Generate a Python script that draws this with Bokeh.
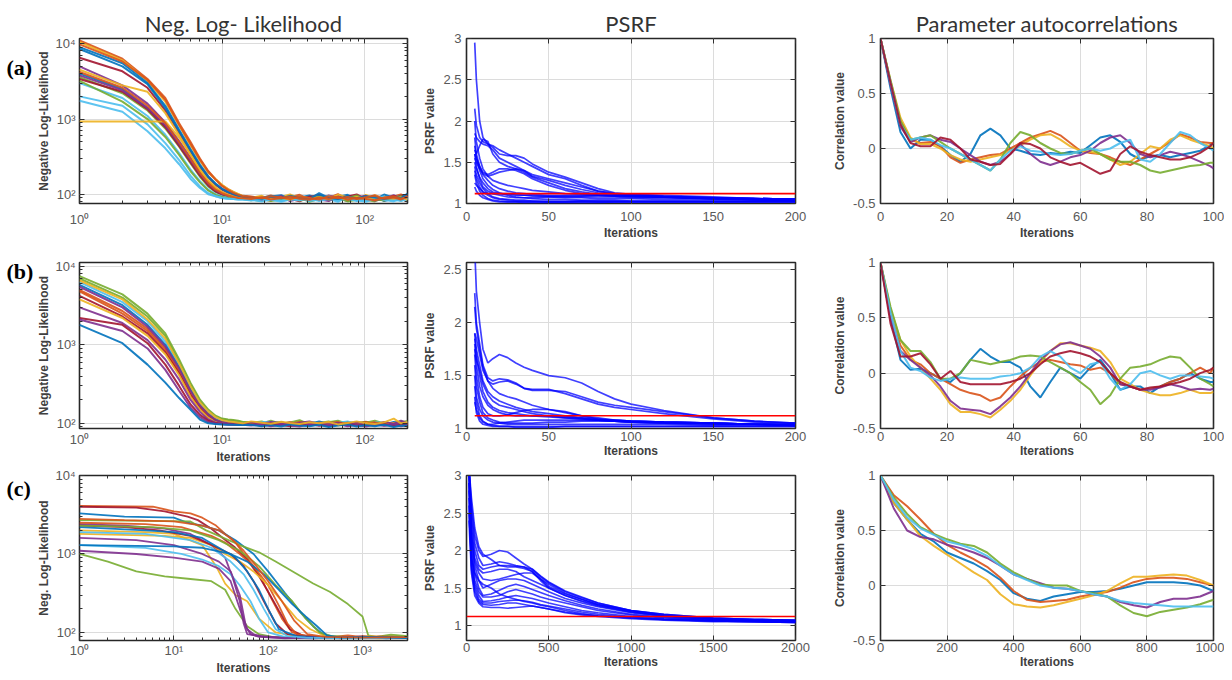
from bokeh.plotting import figure
from bokeh.layouts import column, row
from bokeh.models import (FixedTicker, LinearAxis, LogAxis, Range1d,
                          CustomJSTickFormatter)
from bokeh.core.properties import value
from bokeh.embed import file_html
from bokeh.resources import INLINE

MATLAB = ["#0072BD", "#D95319", "#EDB120", "#7E2F8E", "#77AC30", "#4DBEEE", "#A2142F"]
TITLES = ["Neg. Log- Likelihood", "PSRF", "Parameter autocorrelations"]
ROW_TAGS = ["(a)", "(b)", "(c)"]

# ---------------- (a) negative log-likelihood ----------------
NLL_A_X = [1, 2, 3, 4, 5, 6, 7, 8, 9, 10, 11, 12, 13, 14,
           16, 19, 22, 26, 30, 35, 41, 48, 56, 65, 76, 88, 102, 118, 137, 160, 180, 200]
NLL_A_HEAD = [
    [11000, 6300, 3400, 1900, 880, 500, 300, 205, 160, 132, 118, 108, 100, 96],
    [10500, 6000, 3200, 1700, 820, 450, 280, 195, 160, 135, 118, 108, 102, 95],
    [9000, 5500, 3000, 1500, 720, 400, 250, 175, 140, 120, 110, 103, 98, 94],
    [6500, 4300, 2600, 1300, 660, 370, 235, 170, 135, 116, 106, 100, 95, 93],
    [5000, 2800, 1600, 900, 510, 310, 200, 148, 120, 107, 100, 96, 93, 91],
    [4500, 2800, 2300, 1200, 610, 345, 215, 155, 125, 108, 100, 95, 92, 90],
    [4000, 2500, 1400, 800, 460, 280, 185, 137, 112, 101, 96, 93, 91, 90],
    [3600, 2200, 1300, 750, 430, 260, 172, 128, 108, 99, 94, 91, 89, 88],
    [3400, 2300, 1350, 780, 440, 268, 178, 132, 110, 100, 95, 92, 90, 89],
    [3000, 1900, 1100, 620, 355, 215, 150, 116, 101, 94, 91, 89, 88, 87],
    [3800, 2400, 1400, 820, 470, 285, 188, 138, 114, 102, 96, 93, 91, 89],
    [3200, 1700, 1000, 580, 335, 205, 145, 113, 99, 93, 90, 88, 87, 87],
    [2000, 1500, 850, 480, 285, 178, 128, 104, 95, 90, 88, 87, 86, 86],
    [1750, 1250, 690, 410, 252, 162, 122, 101, 95, 90, 88, 87, 86, 86],
    [930, 930, 930, 930, 570, 340, 210, 150, 120, 105, 98, 94, 91, 90],
    [8500, 5000, 2900, 1400, 690, 385, 240, 170, 138, 118, 108, 101, 96, 93],
    [9800, 5800, 3300, 1800, 840, 470, 290, 200, 158, 130, 115, 105, 99, 95],
    [4200, 2600, 1500, 880, 490, 298, 192, 142, 116, 104, 97, 93, 90, 89],
]
NLL_A_TAIL = [
    [94, 90, 97, 88, 92, 99, 86, 93, 90, 101, 87, 95, 91, 98, 89, 94, 100, 92],
    [90, 96, 86, 93, 100, 89, 95, 84, 92, 96, 90, 85, 99, 88, 94, 90, 87, 96],
    [92, 87, 94, 98, 86, 91, 97, 90, 85, 93, 99, 88, 94, 86, 100, 91, 95, 89],
    [88, 93, 90, 85, 95, 87, 92, 99, 88, 84, 94, 100, 87, 93, 90, 85, 97, 91],
    [91, 85, 89, 94, 83, 96, 88, 86, 97, 90, 82, 91, 96, 84, 89, 98, 86, 93],
    [89, 94, 84, 90, 97, 85, 91, 95, 83, 99, 92, 87, 83, 97, 86, 92, 88, 95],
    [87, 91, 95, 82, 89, 93, 84, 97, 91, 86, 96, 83, 90, 95, 82, 88, 93, 86],
    [86, 82, 90, 87, 84, 92, 80, 88, 94, 83, 89, 97, 85, 81, 92, 87, 83, 90],
    [90, 86, 83, 91, 88, 81, 94, 85, 89, 92, 84, 88, 93, 90, 84, 96, 89, 85],
    [85, 89, 92, 84, 90, 86, 83, 91, 87, 80, 93, 86, 82, 89, 94, 83, 90, 88],
    [88, 84, 87, 95, 82, 88, 91, 86, 82, 94, 85, 90, 88, 83, 87, 92, 85, 98],
    [84, 88, 82, 86, 91, 83, 87, 93, 86, 89, 81, 85, 92, 87, 83, 89, 95, 84],
    [85, 81, 86, 83, 88, 90, 82, 85, 96, 84, 88, 82, 86, 91, 85, 81, 87, 90],
    [83, 87, 85, 80, 86, 84, 89, 82, 87, 85, 91, 84, 80, 88, 93, 86, 82, 87],
    [89, 92, 88, 91, 85, 95, 89, 92, 87, 91, 86, 93, 89, 85, 91, 88, 92, 86],
    [91, 88, 93, 89, 96, 90, 87, 104, 90, 87, 92, 89, 95, 91, 87, 93, 90, 103],
    [93, 89, 95, 91, 87, 94, 90, 86, 95, 89, 93, 87, 92, 96, 88, 91, 86, 94],
    [87, 92, 86, 90, 94, 88, 85, 91, 87, 93, 86, 90, 87, 84, 91, 95, 88, 92],
]
NLL_A_COLOR = [1, 2, 0, 6, 3, 2, 0, 4, 6, 5, 3, 4, 5, 5, 2, 0, 1, 1]

# ---------------- (b) negative log-likelihood ----------------
NLL_B_X = NLL_A_X
NLL_B_HEAD = [
    [7500, 4400, 2500, 1400, 650, 330, 200, 150, 125, 115, 112, 110, 108, 104],
    [7000, 4000, 2300, 1300, 600, 310, 190, 145, 122, 113, 110, 108, 106, 103],
    [6300, 3500, 2000, 1100, 560, 290, 180, 140, 118, 108, 104, 102, 101, 100],
    [5800, 3200, 1800, 1000, 520, 270, 170, 132, 112, 104, 101, 100, 100, 99],
    [5000, 2700, 1600, 900, 470, 250, 165, 128, 110, 103, 100, 99, 99, 98],
    [4800, 2500, 1500, 850, 450, 240, 160, 125, 108, 102, 100, 99, 98, 98],
    [4200, 2300, 1400, 800, 430, 230, 155, 120, 106, 101, 99, 98, 98, 97],
    [3800, 2200, 1300, 760, 410, 220, 150, 118, 105, 100, 99, 98, 97, 97],
    [5500, 3000, 1700, 950, 500, 260, 168, 130, 110, 103, 100, 99, 98, 98],
    [3000, 1900, 1150, 650, 360, 200, 140, 112, 102, 99, 98, 97, 97, 96],
    [2200, 1800, 1050, 560, 300, 175, 128, 108, 100, 98, 97, 97, 96, 96],
    [2100, 1500, 900, 480, 260, 160, 120, 104, 99, 98, 97, 96, 96, 96],
    [1800, 1050, 560, 330, 210, 150, 112, 100, 98, 97, 96, 96, 95, 95],
    [6600, 3800, 2100, 1200, 580, 300, 185, 142, 120, 110, 106, 104, 102, 100],
]
NLL_B_TAIL = [
    [104, 100, 108, 98, 103, 110, 97, 101, 106, 99, 104, 97, 102, 108, 100, 96, 103, 107],
    [101, 106, 97, 102, 99, 105, 100, 96, 103, 108, 98, 101, 105, 99, 95, 102, 106, 100],
    [99, 103, 105, 96, 101, 98, 104, 100, 97, 102, 106, 99, 96, 103, 101, 98, 100, 104],
    [102, 97, 100, 104, 95, 101, 99, 106, 98, 95, 100, 103, 98, 101, 97, 104, 99, 96],
    [97, 101, 96, 99, 103, 97, 95, 102, 100, 104, 96, 99, 104, 97, 100, 95, 101, 98],
    [100, 96, 102, 97, 99, 104, 98, 94, 101, 97, 102, 95, 99, 103, 96, 100, 97, 102],
    [96, 99, 101, 94, 98, 100, 96, 99, 95, 100, 97, 101, 94, 98, 102, 97, 95, 99],
    [98, 94, 97, 100, 96, 93, 101, 97, 99, 94, 98, 96, 100, 95, 98, 101, 94, 97],
    [103, 99, 104, 101, 97, 102, 106, 98, 102, 100, 95, 104, 99, 97, 104, 99, 108, 101],
    [95, 98, 94, 97, 100, 95, 99, 93, 97, 99, 94, 97, 95, 99, 93, 97, 100, 94],
    [97, 93, 99, 95, 92, 98, 94, 97, 92, 96, 99, 93, 97, 94, 98, 92, 96, 99],
    [94, 97, 92, 96, 94, 91, 97, 95, 93, 98, 92, 95, 91, 96, 94, 97, 92, 95],
    [96, 92, 95, 91, 97, 94, 92, 96, 90, 94, 97, 91, 95, 92, 96, 90, 94, 93],
    [106, 102, 99, 105, 101, 98, 103, 100, 104, 97, 101, 106, 100, 98, 103, 115, 100, 104],
]
NLL_B_COLOR = [4, 4, 5, 0, 1, 1, 6, 2, 3, 3, 6, 3, 0, 2]

# ---------------- (c) negative log-likelihood ----------------
NLL_C_X = [
    [1, 6, 10, 15, 20, 28, 35, 45, 55, 70, 90, 110, 140, 180, 250, 400, 700, 1200, 2000, 3000],
    [1, 4, 8, 14, 18, 25, 33, 45, 60, 80, 100, 130, 170, 230, 350, 600, 1000, 1800, 3000],
    [1, 3, 10, 14, 20, 30, 45, 70, 100, 150, 220, 300, 400, 600, 1000, 1800, 3000],
    [1, 15, 22, 30, 50, 80, 120, 200, 300, 450, 700, 1000, 1150, 1400, 2000, 3000],
    [1, 2, 4, 8, 15, 25, 35, 45, 60, 80, 110, 200, 500, 1000, 3000],
    [1, 5, 10, 20, 28, 35, 45, 60, 80, 120, 200, 400, 800, 1500, 3000],
    [1, 3, 8, 15, 25, 35, 42, 50, 55, 60, 80, 150, 300, 700, 1500, 3000],
    [1, 4, 10, 20, 30, 40, 50, 60, 70, 90, 150, 400, 1000, 3000],
    [1, 5, 12, 20, 30, 40, 50, 65, 80, 100, 150, 300, 800, 3000],
    [1, 5, 12, 25, 35, 50, 70, 100, 130, 160, 200, 300, 600, 1500, 3000],
    [1, 8, 15, 25, 35, 50, 70, 100, 140, 200, 280, 400, 600, 1200, 3000],
    [1, 3, 7, 15, 25, 40, 55, 70, 90, 120, 160, 250, 500, 1500, 3000],
    [1, 5, 10, 20, 30, 45, 60, 80, 100, 130, 200, 400, 900, 3000],
    [1, 6, 15, 30, 50, 80, 120, 180, 250, 350, 500, 1000, 3000],
    [1, 4, 10, 20, 30, 40, 50, 58, 65, 80, 150, 500, 3000],
    [1, 5, 15, 25, 40, 55, 70, 90, 120, 160, 250, 700, 3000],
    [1, 10, 20, 40, 60, 90, 130, 180, 250, 330, 420, 600, 1200, 3000],
    [1, 3, 10, 20, 30, 40, 55, 75, 100, 140, 190, 260, 400, 1000, 3000],
]
NLL_C_Y = [
    [4100, 4000, 3500, 3300, 2900, 2300, 1800, 1400, 1000, 700, 420, 260, 150, 100, 90, 86, 92, 85, 90, 87],
    [4000, 3900, 3500, 3000, 2700, 2100, 1600, 1200, 850, 520, 330, 190, 110, 92, 88, 84, 90, 86, 88],
    [3300, 3000, 2900, 2500, 2300, 2000, 1500, 1000, 600, 320, 180, 120, 90, 85, 88, 84, 87],
    [2700, 2600, 2000, 1700, 1300, 1050, 800, 560, 420, 330, 230, 160, 92, 88, 94, 90],
    [1000, 800, 600, 520, 480, 450, 350, 200, 120, 95, 88, 86, 90, 85, 88],
    [2000, 1900, 1800, 1300, 700, 420, 300, 250, 150, 100, 90, 85, 88, 84, 87],
    [2400, 2300, 2100, 1800, 1300, 900, 500, 250, 130, 95, 90, 86, 84, 88, 85, 87],
    [1100, 1000, 900, 800, 650, 450, 200, 110, 95, 88, 84, 87, 85, 86],
    [1300, 1200, 1000, 850, 700, 550, 400, 250, 150, 100, 88, 85, 87, 85],
    [2500, 2400, 2200, 1700, 1400, 1000, 700, 400, 220, 130, 95, 88, 85, 89, 86],
    [1800, 1700, 1600, 1300, 1000, 800, 600, 400, 250, 150, 110, 90, 86, 89, 85],
    [2300, 2200, 2000, 1700, 1300, 1000, 700, 450, 250, 130, 95, 88, 85, 87, 86],
    [2200, 2000, 1900, 1600, 1200, 900, 600, 350, 200, 110, 90, 86, 88, 85],
    [2300, 2200, 2000, 1500, 1100, 700, 400, 250, 150, 100, 88, 86, 88],
    [1600, 1500, 1300, 1000, 800, 600, 300, 120, 95, 88, 85, 87, 86],
    [1900, 1800, 1500, 1200, 800, 550, 350, 200, 110, 90, 86, 84, 86],
    [1300, 1250, 1200, 1000, 800, 550, 350, 230, 160, 120, 92, 86, 88, 85],
    [2800, 2700, 2600, 2300, 2000, 1600, 1100, 700, 450, 250, 140, 95, 88, 86, 87],
]
NLL_C_COLOR = [1, 6, 0, 4, 4, 2, 3, 3, 5, 1, 2, 6, 0, 4, 3, 5, 0, 1]

# ---------------- PSRF ----------------
PSRF_LIMIT = 1.12
PSRF_A_X = [5, 6, 8, 10, 13, 16, 20, 25, 30, 35, 40, 50, 60, 70, 80, 90, 100, 120, 150, 175, 200]
PSRF_A_Y = [
    [2.95, 2.5, 2.0, 1.8, 1.72, 1.7, 1.65, 1.6, 1.55, 1.5, 1.45, 1.35, 1.3, 1.22, 1.15, 1.12, 1.1, 1.08, 1.06, 1.05, 1.05],
    [2.15, 1.95, 1.8, 1.75, 1.72, 1.68, 1.6, 1.58, 1.58, 1.55, 1.48, 1.38, 1.32, 1.25, 1.18, 1.13, 1.11, 1.09, 1.07, 1.06, 1.05],
    [1.85, 1.8, 1.75, 1.72, 1.7, 1.65, 1.55, 1.5, 1.45, 1.4, 1.35, 1.3, 1.25, 1.2, 1.15, 1.12, 1.1, 1.08, 1.06, 1.05, 1.04],
    [1.65, 1.6, 1.7, 1.78, 1.75, 1.6, 1.5, 1.45, 1.42, 1.4, 1.33, 1.28, 1.22, 1.17, 1.13, 1.11, 1.1, 1.08, 1.06, 1.05, 1.04],
    [1.6, 1.55, 1.45, 1.38, 1.35, 1.38, 1.42, 1.42, 1.4, 1.36, 1.3, 1.22, 1.16, 1.12, 1.1, 1.09, 1.08, 1.07, 1.06, 1.05, 1.04],
    [1.55, 1.5, 1.42, 1.36, 1.33, 1.35, 1.38, 1.4, 1.42, 1.38, 1.32, 1.25, 1.18, 1.14, 1.11, 1.1, 1.09, 1.08, 1.07, 1.06, 1.05],
    [1.7, 1.55, 1.4, 1.3, 1.22, 1.17, 1.13, 1.1, 1.08, 1.07, 1.06, 1.05, 1.05, 1.04, 1.04, 1.04, 1.03, 1.03, 1.03, 1.03, 1.03],
    [1.5, 1.42, 1.32, 1.25, 1.18, 1.14, 1.12, 1.11, 1.1, 1.1, 1.1, 1.09, 1.09, 1.08, 1.08, 1.08, 1.07, 1.07, 1.06, 1.06, 1.05],
    [1.45, 1.35, 1.25, 1.18, 1.12, 1.08, 1.06, 1.05, 1.04, 1.04, 1.03, 1.03, 1.03, 1.03, 1.02, 1.02, 1.02, 1.02, 1.02, 1.02, 1.02],
    [1.25, 1.22, 1.18, 1.14, 1.1, 1.07, 1.05, 1.04, 1.03, 1.03, 1.03, 1.02, 1.02, 1.02, 1.02, 1.02, 1.02, 1.02, 1.02, 1.02, 1.02],
    [1.2, 1.15, 1.1, 1.07, 1.05, 1.03, 1.02, 1.02, 1.02, 1.01, 1.01, 1.01, 1.01, 1.01, 1.01, 1.02, 1.02, 1.02, 1.02, 1.02, 1.02],
    [1.4, 1.3, 1.2, 1.14, 1.12, 1.12, 1.12, 1.12, 1.11, 1.1, 1.09, 1.08, 1.07, 1.07, 1.06, 1.06, 1.06, 1.05, 1.05, 1.04, 1.04],
    [1.35, 1.25, 1.15, 1.1, 1.06, 1.04, 1.03, 1.02, 1.02, 1.02, 1.02, 1.02, 1.02, 1.03, 1.03, 1.03, 1.03, 1.03, 1.03, 1.03, 1.03],
    [1.6, 1.45, 1.3, 1.2, 1.15, 1.12, 1.1, 1.08, 1.07, 1.07, 1.07, 1.08, 1.08, 1.09, 1.1, 1.1, 1.11, 1.1, 1.08, 1.06, 1.05],
    [1.8, 1.6, 1.45, 1.35, 1.28, 1.22, 1.18, 1.15, 1.13, 1.12, 1.11, 1.1, 1.1, 1.1, 1.1, 1.09, 1.09, 1.08, 1.07, 1.06, 1.05],
    [2.0, 1.75, 1.55, 1.42, 1.33, 1.28, 1.25, 1.22, 1.2, 1.18, 1.16, 1.14, 1.12, 1.11, 1.1, 1.1, 1.09, 1.08, 1.07, 1.06, 1.05],
]
PSRF_A_LIMIT_X = [5, 200]

PSRF_B_X = PSRF_A_X
PSRF_B_Y = [
    [2.7, 2.3, 2.0, 1.75, 1.62, 1.66, 1.7, 1.67, 1.62, 1.58, 1.55, 1.5, 1.48, 1.43, 1.35, 1.28, 1.23, 1.17, 1.1, 1.07, 1.05],
    [2.28, 2.0, 1.8, 1.6, 1.48, 1.45, 1.47, 1.46, 1.43, 1.38, 1.36, 1.36, 1.35, 1.3, 1.25, 1.22, 1.2, 1.16, 1.1, 1.07, 1.05],
    [2.15, 1.95, 1.75, 1.58, 1.45, 1.42, 1.44, 1.45, 1.42, 1.38, 1.37, 1.37, 1.33, 1.28, 1.23, 1.2, 1.18, 1.14, 1.09, 1.06, 1.05],
    [1.9, 1.85, 1.7, 1.55, 1.45, 1.38, 1.33, 1.3, 1.28, 1.25, 1.22, 1.18, 1.15, 1.12, 1.1, 1.08, 1.07, 1.06, 1.05, 1.04, 1.04],
    [1.85, 1.75, 1.6, 1.45, 1.35, 1.3, 1.26, 1.23, 1.2, 1.18, 1.16, 1.14, 1.12, 1.1, 1.08, 1.07, 1.06, 1.05, 1.05, 1.04, 1.04],
    [1.8, 1.6, 1.4, 1.3, 1.22, 1.18, 1.15, 1.13, 1.12, 1.12, 1.12, 1.11, 1.1, 1.09, 1.08, 1.07, 1.06, 1.05, 1.04, 1.04, 1.03],
    [1.7, 1.5, 1.3, 1.2, 1.14, 1.12, 1.12, 1.13, 1.15, 1.17, 1.18, 1.18, 1.16, 1.12, 1.09, 1.07, 1.06, 1.05, 1.04, 1.04, 1.03],
    [1.6, 1.4, 1.25, 1.15, 1.1, 1.08, 1.06, 1.05, 1.05, 1.05, 1.05, 1.06, 1.06, 1.07, 1.07, 1.07, 1.06, 1.06, 1.05, 1.04, 1.03],
    [1.5, 1.3, 1.18, 1.12, 1.08, 1.06, 1.05, 1.04, 1.04, 1.04, 1.04, 1.04, 1.04, 1.04, 1.04, 1.04, 1.04, 1.04, 1.03, 1.03, 1.03],
    [1.4, 1.25, 1.12, 1.07, 1.04, 1.03, 1.02, 1.02, 1.02, 1.02, 1.02, 1.02, 1.02, 1.02, 1.02, 1.02, 1.02, 1.02, 1.02, 1.02, 1.02],
    [1.3, 1.15, 1.07, 1.04, 1.03, 1.02, 1.02, 1.02, 1.01, 1.01, 1.01, 1.01, 1.02, 1.02, 1.02, 1.02, 1.02, 1.02, 1.02, 1.02, 1.02],
    [1.25, 1.18, 1.1, 1.06, 1.04, 1.04, 1.05, 1.06, 1.07, 1.08, 1.08, 1.08, 1.08, 1.08, 1.08, 1.08, 1.07, 1.06, 1.05, 1.04, 1.03],
    [1.9, 1.7, 1.5, 1.35, 1.25, 1.2, 1.17, 1.15, 1.14, 1.13, 1.12, 1.12, 1.11, 1.1, 1.09, 1.08, 1.07, 1.06, 1.05, 1.04, 1.04],
    [1.75, 1.65, 1.55, 1.42, 1.32, 1.26, 1.22, 1.2, 1.18, 1.16, 1.14, 1.12, 1.1, 1.09, 1.08, 1.07, 1.07, 1.06, 1.05, 1.04, 1.04],
]
PSRF_B_LIMIT_X = [5, 200]

PSRF_C_X = [15, 30, 50, 75, 100, 150, 200, 250, 300, 350, 400, 450, 500, 600, 700, 800, 1000, 1200, 1500, 1750, 2000]
PSRF_C_Y = [
    [3.1, 2.6, 2.2, 2.0, 1.92, 1.95, 2.0, 1.98, 1.9, 1.82, 1.75, 1.65, 1.57, 1.45, 1.37, 1.3, 1.2, 1.15, 1.1, 1.08, 1.07],
    [3.1, 2.5, 2.1, 1.9, 1.8, 1.82, 1.85, 1.83, 1.8, 1.78, 1.72, 1.62, 1.55, 1.43, 1.35, 1.28, 1.2, 1.14, 1.1, 1.08, 1.07],
    [3.1, 2.4, 2.0, 1.8, 1.75, 1.78, 1.8, 1.8, 1.79, 1.78, 1.75, 1.66, 1.58, 1.46, 1.38, 1.3, 1.2, 1.15, 1.1, 1.08, 1.07],
    [3.1, 2.3, 1.9, 1.75, 1.7, 1.72, 1.75, 1.75, 1.72, 1.65, 1.6, 1.55, 1.5, 1.4, 1.33, 1.27, 1.18, 1.13, 1.09, 1.07, 1.06],
    [3.0, 2.2, 1.8, 1.6, 1.5, 1.55, 1.6, 1.62, 1.62, 1.6, 1.55, 1.5, 1.45, 1.36, 1.3, 1.25, 1.17, 1.12, 1.08, 1.07, 1.06],
    [3.0, 2.1, 1.7, 1.5, 1.4, 1.42, 1.47, 1.52, 1.55, 1.52, 1.48, 1.44, 1.4, 1.33, 1.27, 1.22, 1.15, 1.11, 1.08, 1.06, 1.05],
    [2.9, 2.0, 1.6, 1.45, 1.38, 1.38, 1.4, 1.45, 1.48, 1.45, 1.42, 1.38, 1.35, 1.3, 1.25, 1.2, 1.14, 1.1, 1.07, 1.06, 1.05],
    [2.8, 1.9, 1.55, 1.4, 1.32, 1.33, 1.35, 1.38, 1.4, 1.38, 1.36, 1.33, 1.3, 1.25, 1.2, 1.17, 1.12, 1.09, 1.07, 1.06, 1.05],
    [2.7, 1.8, 1.5, 1.35, 1.3, 1.3, 1.32, 1.33, 1.34, 1.33, 1.31, 1.28, 1.26, 1.22, 1.18, 1.15, 1.11, 1.08, 1.06, 1.05, 1.05],
    [2.6, 1.75, 1.45, 1.32, 1.28, 1.27, 1.28, 1.3, 1.3, 1.28, 1.26, 1.24, 1.22, 1.18, 1.15, 1.13, 1.1, 1.08, 1.06, 1.05, 1.04],
    [2.5, 1.9, 1.7, 1.6, 1.55, 1.5, 1.42, 1.38, 1.35, 1.32, 1.3, 1.27, 1.25, 1.2, 1.16, 1.13, 1.1, 1.08, 1.06, 1.05, 1.04],
    [2.4, 1.7, 1.4, 1.3, 1.25, 1.24, 1.24, 1.23, 1.24, 1.25, 1.26, 1.24, 1.22, 1.17, 1.14, 1.12, 1.09, 1.07, 1.05, 1.05, 1.04],
    [3.1, 2.7, 2.3, 2.05, 1.95, 1.88, 1.8, 1.78, 1.78, 1.76, 1.72, 1.6, 1.5, 1.4, 1.32, 1.26, 1.18, 1.13, 1.09, 1.08, 1.07],
    [2.9, 2.2, 1.85, 1.7, 1.62, 1.6, 1.62, 1.65, 1.68, 1.7, 1.7, 1.62, 1.52, 1.42, 1.35, 1.28, 1.19, 1.13, 1.09, 1.07, 1.06],
]
PSRF_C_LIMIT_X = [0, 2000]

# ---------------- parameter autocorrelations ----------------
ACF_A_X = [0, 3, 6, 9, 12, 15, 18, 21, 24, 27, 30, 33, 36, 39, 42, 45, 48, 51, 54, 57,
           60, 63, 66, 69, 72, 75, 78, 81, 84, 87, 90, 93, 96, 99, 100]
ACF_A_Y = [
    [1, .55, .15, .0, .08, .08, .02, -.06, -.12, -.05, .12, .18, .12, .0, -.02, -.05, -.06, -.04, -.05, -.03,
     -.04, .03, .10, .12, .06, -.05, -.10, -.07, -.06, -.08, -.06, -.04, -.02, .03, .05],
    [1, .6, .25, .08, .05, .06, .02, -.08, -.13, -.10, -.08, -.06, -.05, .0, .05, .10, .13, .16, .12, .05,
     -.02, -.04, -.05, -.08, -.12, -.15, -.10, -.05, .0, .06, .13, .10, .06, .05, .05],
    [1, .62, .28, .1, .04, .04, .0, -.06, -.10, -.12, -.10, -.08, -.06, -.02, .03, .08, .12, .13, .08, .02,
     -.02, -.03, -.05, -.10, -.15, -.12, -.05, .02, .0, .08, .12, .08, .05, .02, .0],
    [1, .58, .2, .06, .10, .12, .08, .06, .0, -.06, -.12, -.15, -.12, -.05, .04, -.05, -.12, -.15, -.12, -.08,
     -.06, -.02, .05, .10, .12, .05, -.05, -.08, -.06, -.03, -.05, -.08, -.12, -.16, -.18],
    [1, .62, .25, .08, .10, .12, .06, .0, -.05, -.10, -.15, -.20, -.10, .05, .15, .12, .05, .0, -.04, -.05,
     -.02, .0, -.05, -.10, -.12, -.12, -.15, -.20, -.22, -.20, -.18, -.16, -.15, -.13, -.13],
    [1, .6, .22, .08, .10, .08, .03, .0, -.05, -.10, -.15, -.20, -.10, -.02, .02, -.02, -.03, -.05, -.06, -.05,
     -.02, .0, -.02, .0, .05, .08, -.10, -.12, -.05, .05, .15, .12, .05, .0, -.02],
    [1, .6, .22, .05, .02, .02, .10, .08, .0, -.10, -.12, -.15, -.14, -.05, .05, .04, .0, -.08, -.12, -.15,
     -.13, -.18, -.23, -.20, -.05, .02, -.03, -.06, -.08, -.10, -.10, -.08, -.04, .02, .05],
]
ACF_B_X = ACF_A_X
ACF_B_Y = [
    [1, .5, .12, .03, .04, .0, -.05, -.08, .0, .12, .22, .15, .10, .10, .05, -.12, -.22, -.08, .05, .0,
     -.05, .05, .12, .0, -.15, -.12, -.12, -.18, -.12, -.08, -.05, .0, -.05, -.08, -.08],
    [1, .55, .25, .12, .08, .0, -.05, -.10, -.15, -.18, -.20, -.25, -.22, -.12, -.03, .05, .10, .12, .10, .08,
     .07, .03, .05, .0, -.10, -.12, -.15, -.14, -.12, -.08, -.05, .0, .05, .0, .05],
    [1, .58, .3, .15, .05, -.05, -.15, -.28, -.35, -.35, -.37, -.40, -.33, -.25, -.15, -.02, .10, .20, .27, .27,
     .25, .23, .20, .10, -.05, -.10, -.15, -.18, -.20, -.20, -.18, -.15, -.18, -.18, -.17],
    [1, .5, .2, .12, .05, -.02, -.12, -.25, -.32, -.33, -.34, -.37, -.30, -.22, -.12, .0, .12, .20, .26, .28,
     .25, .22, .15, .05, -.10, -.12, -.15, -.15, -.13, -.10, -.12, -.15, -.14, -.15, -.14],
    [1, .6, .3, .2, .2, .1, -.05, -.05, .0, .12, .10, .08, .10, .12, .15, .16, .15, .10, .05, .0,
     -.08, -.15, -.28, -.20, -.05, .05, .06, .08, .12, .15, .14, .05, -.05, -.10, -.12],
    [1, .55, .2, .05, .02, -.04, -.07, -.05, -.04, -.05, -.05, -.05, -.03, -.02, .0, .05, .15, .20, .15, .05,
     .0, .08, .10, -.05, -.15, -.10, .0, .02, -.02, -.05, -.02, -.02, -.03, -.04, -.05],
    [1, .45, .15, .15, .18, .08, -.05, .02, -.08, -.10, -.10, -.10, -.10, -.08, -.05, .0, .08, .15, .18, .20,
     .18, .15, .10, .0, -.08, -.12, -.15, -.13, -.12, -.10, -.08, -.05, .0, .03, .05],
]
ACF_C_X = [0, 40, 80, 120, 160, 200, 240, 280, 320, 360, 400, 440, 480, 520, 560, 600,
           640, 680, 720, 760, 800, 840, 880, 920, 960, 1000]
ACF_C_Y = [
    [1, .75, .6, .47, .4, .3, .25, .2, .13, .05, -.07, -.12, -.14, -.1, -.08, -.06, -.06, -.05, -.03, .0, .03, .03, .03, .02, .0, -.05],
    [1, .82, .72, .6, .47, .37, .3, .24, .17, .07, -.05, -.13, -.15, -.14, -.13, -.1, -.08, -.06, -.02, .03, .06, .07, .07, .06, .03, .0],
    [1, .75, .6, .45, .36, .28, .2, .12, .05, -.08, -.17, -.19, -.2, -.18, -.15, -.12, -.09, -.05, .02, .08, .08, .09, .1, .09, .05, .0],
    [1, .7, .5, .44, .42, .37, .34, .3, .25, .18, .1, .06, .02, -.02, -.03, -.05, -.08, -.1, -.15, -.18, -.2, -.15, -.12, -.12, -.1, -.05],
    [1, .8, .65, .53, .47, .42, .38, .36, .3, .2, .12, .06, .01, .0, .0, -.05, -.07, -.1, -.18, -.25, -.28, -.24, -.22, -.2, -.17, -.13],
    [1, .78, .62, .52, .46, .4, .37, .33, .27, .18, .1, .05, .0, -.02, -.03, -.05, -.08, -.1, -.14, -.16, -.17, -.18, -.19, -.19, -.19, -.19],
]
ACF_C_COLOR = [0, 1, 2, 3, 4, 5]

# ---------------- layout constants ----------------
TAG_W = 34
COLS = [(386, 41, 13, 4, 1), (410, 43, 35, 5, 3), (394, 45, 11, 5, 3)]   # width, left, right, y standoffs
ROWS = [(248, 38, 45, 8, 2), (218, 14, 38, 3, 0), (211, 9, 37, 2, 0)]    # height, top, bottom, x standoffs
TAG_Y = [43, 12, 17]

LOG_FMT = ("const s={'0':'\u2070','1':'\u00b9','2':'\u00b2','3':'\u00b3','4':'\u2074'};"
           "const e=Math.round(Math.log10(tick)); return '10'+s[String(e)];")
LIN_FMT = "return String(Math.round(tick*1000)/1000);"


def style_axis(ax, log, ticks, minor, ls, als):
    ax.ticker = FixedTicker(ticks=ticks, minor_ticks=minor)
    ax.formatter = CustomJSTickFormatter(code=LOG_FMT if log else LIN_FMT)
    ax.axis_line_color = None
    ax.major_tick_in = 5
    ax.major_tick_out = 0
    ax.minor_tick_in = 3
    ax.minor_tick_out = 0
    ax.major_tick_line_color = "#303030"
    ax.minor_tick_line_color = "#303030" if minor else None
    ax.major_label_text_font = "Liberation Sans"
    ax.major_label_text_font_size = "13px"
    ax.major_label_text_color = "#595959"
    ax.major_label_standoff = ls
    ax.axis_label_standoff = als
    ax.axis_label_text_font = "Liberation Sans"
    ax.axis_label_text_font_size = "12px"
    ax.axis_label_text_font_style = "bold"
    ax.axis_label_text_color = "#404040"


def make_tag(ri):
    h = ROWS[ri][0]
    t = figure(width=TAG_W, height=h, x_range=Range1d(0, TAG_W), y_range=Range1d(h, 0),
               output_backend="svg", toolbar_location=None,
               x_axis_location=None, y_axis_location=None,
               min_border_left=0, min_border_right=0, min_border_top=0, min_border_bottom=0)
    t.outline_line_color = None
    t.grid.visible = False
    t.text(x=[6], y=[TAG_Y[ri]], text=[ROW_TAGS[ri]], text_font=value("Liberation Serif"),
           text_font_style="bold", text_font_size="22px", text_baseline="middle",
           text_color="black")
    return t


def make_panel(ci, ri, xr, yr, xlog, ylog, xt, yt, xm, ym, xlabel, ylabel):
    w, bl, br, yls, yals = COLS[ci]
    h, bt, bb, ls, als = ROWS[ri]
    p = figure(width=w, height=h, x_range=Range1d(*xr), y_range=Range1d(*yr),
               x_axis_type="log" if xlog else "linear",
               y_axis_type="log" if ylog else "linear",
               output_backend="svg", toolbar_location=None,
               title=TITLES[ci] if ri == 0 else None,
               min_border_left=bl, min_border_right=br,
               min_border_top=bt, min_border_bottom=bb)
    p.background_fill_color = "white"
    p.border_fill_color = "white"
    p.outline_line_color = "#262626"
    p.outline_line_width = 1.6
    p.grid.grid_line_color = "#dcdcdc"
    p.grid.grid_line_width = 1
    style_axis(p.xaxis[0], xlog, xt, xm, ls, als)
    p.xaxis[0].axis_label = xlabel
    style_axis(p.yaxis[0], ylog, yt, ym, yls, yals)
    p.yaxis[0].axis_label = ylabel
    for loc, log, t, m in (("above", xlog, xt, xm), ("right", ylog, yt, ym)):
        ax = (LogAxis if log else LinearAxis)()
        style_axis(ax, log, t, m, 0, 0)
        ax.major_label_text_font_size = "1px"
        ax.major_label_text_color = None
        p.add_layout(ax, loc)
    if ri == 0:
        p.title.align = "center"
        p.title.text_font = "Lato"
        p.title.text_font_size = "22px"
        p.title.text_font_style = "normal"
        p.title.text_color = "#333333"
        p.title.standoff = 4
    return p


def draw(p, x, y, color, width=2.0, alpha=0.9):
    n = min(len(x), len(y))
    p.line(x[:n], y[:n], line_color=color, line_width=width, line_alpha=alpha)


LOGX_MINOR_200 = [2, 3, 4, 5, 6, 7, 8, 9, 20, 30, 40, 50, 60, 70, 80, 90, 200]
LOGX_MINOR_3000 = [2, 3, 4, 5, 6, 7, 8, 9, 20, 30, 40, 50, 60, 70, 80, 90,
                   200, 300, 400, 500, 600, 700, 800, 900, 2000, 3000]
LOGY_MINOR = [80, 90, 200, 300, 400, 500, 600, 700, 800, 900,
              2000, 3000, 4000, 5000, 6000, 7000, 8000, 9000]

# row (a)
pa1 = make_panel(0, 0, (1, 200), (76, 11700), True, True, [1, 10, 100], [100, 1000, 10000],
                 LOGX_MINOR_200, LOGY_MINOR, "Iterations", "Negative Log-Likelihood")
for head, tail, c in zip(NLL_A_HEAD, NLL_A_TAIL, NLL_A_COLOR):
    draw(pa1, NLL_A_X, head + tail, MATLAB[c])
pa2 = make_panel(1, 0, (0, 200), (1, 3), False, False, [0, 50, 100, 150, 200],
                 [1, 1.5, 2, 2.5, 3], [], [], "Iterations", "PSRF value")
for ys in PSRF_A_Y:
    draw(pa2, PSRF_A_X, ys, "#0000FF", 1.7, 0.75)
draw(pa2, PSRF_A_LIMIT_X, [PSRF_LIMIT, PSRF_LIMIT], "#FF0000", 1.6, 1)
pa3 = make_panel(2, 0, (0, 100), (-0.5, 1), False, False, [0, 20, 40, 60, 80, 100],
                 [-0.5, 0, 0.5, 1], [], [], "Iterations", "Correlation value")
for i, ys in enumerate(ACF_A_Y):
    draw(pa3, ACF_A_X, ys, MATLAB[i], 2.0, 0.9)

# row (b)
pb1 = make_panel(0, 1, (1, 200), (86, 11200), True, True, [1, 10, 100], [100, 1000, 10000],
                 LOGX_MINOR_200, [90] + LOGY_MINOR[2:], "Iterations", "Negative Log-Likelihood")
for head, tail, c in zip(NLL_B_HEAD, NLL_B_TAIL, NLL_B_COLOR):
    draw(pb1, NLL_B_X, head + tail, MATLAB[c])
pb2 = make_panel(1, 1, (0, 200), (1, 2.57), False, False, [0, 50, 100, 150, 200],
                 [1, 1.5, 2, 2.5], [], [], "Iterations", "PSRF value")
for ys in PSRF_B_Y:
    draw(pb2, PSRF_B_X, ys, "#0000FF", 1.7, 0.75)
draw(pb2, PSRF_B_LIMIT_X, [PSRF_LIMIT, PSRF_LIMIT], "#FF0000", 1.6, 1)
pb3 = make_panel(2, 1, (0, 100), (-0.5, 1), False, False, [0, 20, 40, 60, 80, 100],
                 [-0.5, 0, 0.5, 1], [], [], "Iterations", "Correlation value")
for i, ys in enumerate(ACF_B_Y):
    draw(pb3, ACF_B_X, ys, MATLAB[i], 2.0, 0.9)

# row (c)
pc1 = make_panel(0, 2, (1, 3000), (79, 10000), True, True, [1, 10, 100, 1000], [100, 1000, 10000],
                 LOGX_MINOR_3000, LOGY_MINOR, "Iterations", "Neg. Log-Likelihood")
for xs, ys, c in zip(NLL_C_X, NLL_C_Y, NLL_C_COLOR):
    draw(pc1, xs, ys, MATLAB[c], 1.8, 0.9)
pc2 = make_panel(1, 2, (0, 2000), (0.8, 3), False, False, [0, 500, 1000, 1500, 2000],
                 [1, 1.5, 2, 2.5, 3], [], [], "Iterations", "PSRF value")
for ys in PSRF_C_Y:
    draw(pc2, PSRF_C_X, ys, "#0000FF", 1.7, 0.75)
draw(pc2, PSRF_C_LIMIT_X, [PSRF_LIMIT, PSRF_LIMIT], "#FF0000", 1.6, 1)
pc3 = make_panel(2, 2, (0, 1000), (-0.5, 1), False, False, [0, 200, 400, 600, 800, 1000],
                 [-0.5, 0, 0.5, 1], [], [], "Iterations", "Correlation value")
for ys, c in zip(ACF_C_Y, ACF_C_COLOR):
    draw(pc3, ACF_C_X, ys, MATLAB[c], 2.0, 0.9)

layout = column(row(make_tag(0), pa1, pa2, pa3),
                row(make_tag(1), pb1, pb2, pb3),
                row(make_tag(2), pc1, pc2, pc3))
open("out.html", "w").write(file_html(layout, INLINE, "MCMC diagnostics"))
